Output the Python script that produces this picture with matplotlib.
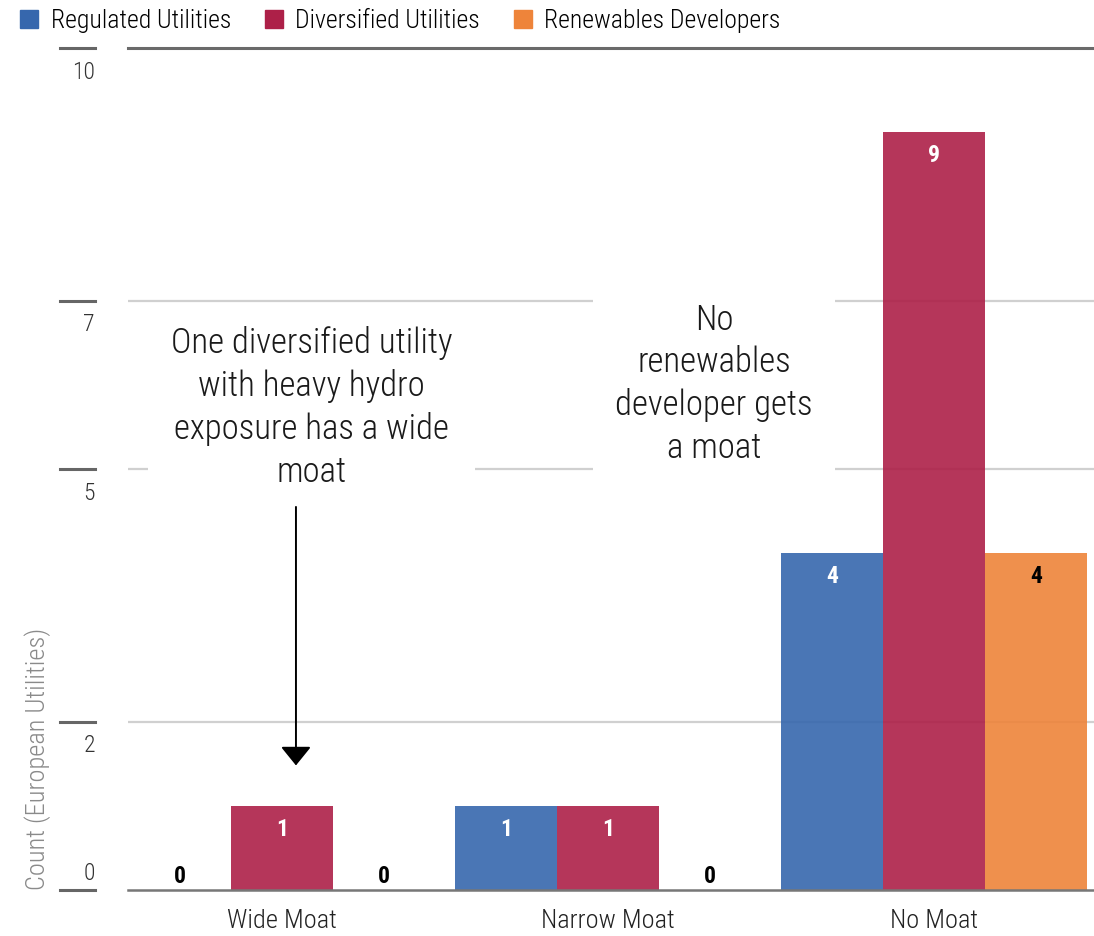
import matplotlib
matplotlib.use("Agg")
import matplotlib.pyplot as plt
from matplotlib.patches import Patch
from matplotlib.transforms import offset_copy
import numpy as np

plt.rcParams['font.family'] = ['Roboto Condensed', 'DejaVu Sans']
plt.rcParams['font.weight'] = 300

categories = ["Wide Moat", "Narrow Moat", "No Moat"]
series = ["Regulated Utilities", "Diversified Utilities", "Renewables Developers"]
regulated = [0, 1, 4]
diversified = [1, 1, 9]
renewables = [0, 0, 4]
yticks = [0, 2, 5, 7, 10]

colors = ["#3667ad", "#ad2048", "#ee843a"]
label_colors = ["white", "white", "black"]

fig = plt.figure(figsize=(10.94, 9.36), dpi=100)
ax = fig.add_axes([0.117, 0.0491, 0.883, 0.8996])

x = np.arange(len(categories))
width = 0.313
for i, (name, vals) in enumerate(zip(series, [regulated, diversified, renewables])):
    pos = x + (i - 1) * width
    ax.bar(pos, vals, width, color=colors[i], alpha=0.9, zorder=3, linewidth=0)
    for p, v in zip(pos, vals):
        if v > 0:
            ax.annotate(str(v), (p, v), xytext=(0, -17), textcoords='offset points',
                        ha='center', va='center', color=label_colors[i],
                        fontweight='bold', fontsize=17, zorder=5)
        else:
            ax.annotate("0", (p, 0), xytext=(0, 5), textcoords='offset points',
                        ha='center', va='baseline', color='black',
                        fontweight='bold', fontsize=17, zorder=5)

# grid / frame lines
for t in yticks[1:-1]:
    ax.axhline(t, color='#d0d0d0', lw=1.6, zorder=1)
ax.axhline(yticks[-1], color='#6a6a6a', lw=2.2, zorder=1, clip_on=False)
ax.axhline(yticks[0], color='#777777', lw=1.8, zorder=4, clip_on=False)

# y ticks drawn left of the plot; labels sit below the marks (0 sits above)
trans = ax.get_yaxis_transform()
below = offset_copy(trans, fig=fig, y=-24, units='dots')
above = offset_copy(trans, fig=fig, y=17, units='dots')
for t in yticks:
    ax.plot([-0.0704, -0.0342], [t, t], transform=trans, color='#666666', lw=2.2, clip_on=False)
    ax.text(-0.0342, t, str(t), transform=above if t == 0 else below, ha='right', va='center',
            fontsize=17, color='#333333')
ax.set_yticks([])

ax.set_xlim(-0.472, 2.49)
ax.set_ylim(0, 10)
ax.set_xticks(x, categories)
ax.tick_params(axis='x', length=0, pad=14, labelsize=19, labelcolor='#222222')
for s in ax.spines.values():
    s.set_visible(False)

fig.text(0.0347, 0.049, "Count (European Utilities)", rotation=90, ha='center', va='bottom',
         color='#8a8a8a', fontsize=19)

handles = [Patch(color=c, label=n) for c, n in zip(colors, series)]
fig.legend(handles=handles, loc='center left', bbox_to_anchor=(0.0183, 0.978), ncol=3,
           frameon=False, fontsize=18.5, handlelength=0.7, handleheight=0.7,
           handletextpad=0.5, columnspacing=1.3, borderpad=0, borderaxespad=0)

box = dict(boxstyle='square,pad=0.65', fc='white', ec='none')
ax.text(0.09, 5.73, "One diversified utility\nwith heavy hydro\nexposure has a wide\nmoat",
        ha='center', va='center', fontsize=25, linespacing=1.34, color='#1a1a1a',
        bbox=box, zorder=2)
ax.annotate("", xy=(0.043, 1.48), xytext=(0.043, 4.55),
            arrowprops=dict(arrowstyle='-|>,head_length=0.58,head_width=0.47',
                            color='black', lw=1.4, mutation_scale=20,
                            shrinkA=0, shrinkB=0), zorder=2)
ax.text(1.325, 6.01, "No\nrenewables\ndeveloper gets\na moat",
        ha='center', va='center', fontsize=25, linespacing=1.34, color='#1a1a1a',
        bbox=box, zorder=2)

fig.savefig("out.png", dpi=100)
